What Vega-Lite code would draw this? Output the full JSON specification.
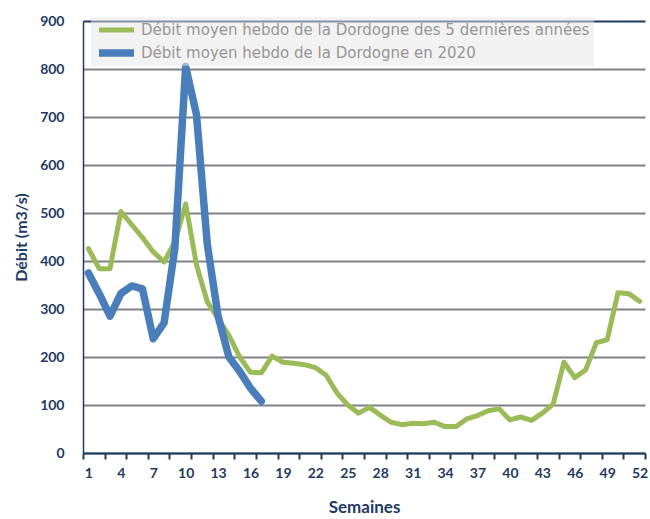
{
  "$schema": "https://vega.github.io/schema/vega-lite/v6.json",
  "width": 562,
  "height": 432,
  "autosize": {"type": "none"},
  "padding": {"left": 83, "top": 21, "right": 5, "bottom": 66},
  "background": "#ffffff",
  "config": {
    "view": {"stroke": null},
    "font": "Lato"
  },
  "data": {
    "values": [
      {"semaine": 1, "serie": "Débit moyen hebdo de la Dordogne des 5 dernières années", "debit": 426},
      {"semaine": 2, "serie": "Débit moyen hebdo de la Dordogne des 5 dernières années", "debit": 384},
      {"semaine": 3, "serie": "Débit moyen hebdo de la Dordogne des 5 dernières années", "debit": 384},
      {"semaine": 4, "serie": "Débit moyen hebdo de la Dordogne des 5 dernières années", "debit": 503},
      {"semaine": 5, "serie": "Débit moyen hebdo de la Dordogne des 5 dernières années", "debit": 476},
      {"semaine": 6, "serie": "Débit moyen hebdo de la Dordogne des 5 dernières années", "debit": 449},
      {"semaine": 7, "serie": "Débit moyen hebdo de la Dordogne des 5 dernières années", "debit": 419},
      {"semaine": 8, "serie": "Débit moyen hebdo de la Dordogne des 5 dernières années", "debit": 398},
      {"semaine": 9, "serie": "Débit moyen hebdo de la Dordogne des 5 dernières années", "debit": 440},
      {"semaine": 10, "serie": "Débit moyen hebdo de la Dordogne des 5 dernières années", "debit": 519},
      {"semaine": 11, "serie": "Débit moyen hebdo de la Dordogne des 5 dernières années", "debit": 392},
      {"semaine": 12, "serie": "Débit moyen hebdo de la Dordogne des 5 dernières années", "debit": 315},
      {"semaine": 13, "serie": "Débit moyen hebdo de la Dordogne des 5 dernières années", "debit": 280},
      {"semaine": 14, "serie": "Débit moyen hebdo de la Dordogne des 5 dernières années", "debit": 245},
      {"semaine": 15, "serie": "Débit moyen hebdo de la Dordogne des 5 dernières années", "debit": 200},
      {"semaine": 16, "serie": "Débit moyen hebdo de la Dordogne des 5 dernières années", "debit": 168},
      {"semaine": 17, "serie": "Débit moyen hebdo de la Dordogne des 5 dernières années", "debit": 167},
      {"semaine": 18, "serie": "Débit moyen hebdo de la Dordogne des 5 dernières années", "debit": 202},
      {"semaine": 19, "serie": "Débit moyen hebdo de la Dordogne des 5 dernières années", "debit": 189},
      {"semaine": 20, "serie": "Débit moyen hebdo de la Dordogne des 5 dernières années", "debit": 187},
      {"semaine": 21, "serie": "Débit moyen hebdo de la Dordogne des 5 dernières années", "debit": 184},
      {"semaine": 22, "serie": "Débit moyen hebdo de la Dordogne des 5 dernières années", "debit": 178},
      {"semaine": 23, "serie": "Débit moyen hebdo de la Dordogne des 5 dernières années", "debit": 162},
      {"semaine": 24, "serie": "Débit moyen hebdo de la Dordogne des 5 dernières années", "debit": 125},
      {"semaine": 25, "serie": "Débit moyen hebdo de la Dordogne des 5 dernières années", "debit": 100},
      {"semaine": 26, "serie": "Débit moyen hebdo de la Dordogne des 5 dernières années", "debit": 83},
      {"semaine": 27, "serie": "Débit moyen hebdo de la Dordogne des 5 dernières années", "debit": 95},
      {"semaine": 28, "serie": "Débit moyen hebdo de la Dordogne des 5 dernières années", "debit": 79},
      {"semaine": 29, "serie": "Débit moyen hebdo de la Dordogne des 5 dernières années", "debit": 64},
      {"semaine": 30, "serie": "Débit moyen hebdo de la Dordogne des 5 dernières années", "debit": 59},
      {"semaine": 31, "serie": "Débit moyen hebdo de la Dordogne des 5 dernières années", "debit": 62},
      {"semaine": 32, "serie": "Débit moyen hebdo de la Dordogne des 5 dernières années", "debit": 61},
      {"semaine": 33, "serie": "Débit moyen hebdo de la Dordogne des 5 dernières années", "debit": 64},
      {"semaine": 34, "serie": "Débit moyen hebdo de la Dordogne des 5 dernières années", "debit": 55},
      {"semaine": 35, "serie": "Débit moyen hebdo de la Dordogne des 5 dernières années", "debit": 55},
      {"semaine": 36, "serie": "Débit moyen hebdo de la Dordogne des 5 dernières années", "debit": 71},
      {"semaine": 37, "serie": "Débit moyen hebdo de la Dordogne des 5 dernières années", "debit": 78},
      {"semaine": 38, "serie": "Débit moyen hebdo de la Dordogne des 5 dernières années", "debit": 88},
      {"semaine": 39, "serie": "Débit moyen hebdo de la Dordogne des 5 dernières années", "debit": 92},
      {"semaine": 40, "serie": "Débit moyen hebdo de la Dordogne des 5 dernières années", "debit": 69},
      {"semaine": 41, "serie": "Débit moyen hebdo de la Dordogne des 5 dernières années", "debit": 75},
      {"semaine": 42, "serie": "Débit moyen hebdo de la Dordogne des 5 dernières années", "debit": 68},
      {"semaine": 43, "serie": "Débit moyen hebdo de la Dordogne des 5 dernières années", "debit": 83},
      {"semaine": 44, "serie": "Débit moyen hebdo de la Dordogne des 5 dernières années", "debit": 102},
      {"semaine": 45, "serie": "Débit moyen hebdo de la Dordogne des 5 dernières années", "debit": 189},
      {"semaine": 46, "serie": "Débit moyen hebdo de la Dordogne des 5 dernières années", "debit": 157},
      {"semaine": 47, "serie": "Débit moyen hebdo de la Dordogne des 5 dernières années", "debit": 173},
      {"semaine": 48, "serie": "Débit moyen hebdo de la Dordogne des 5 dernières années", "debit": 230},
      {"semaine": 49, "serie": "Débit moyen hebdo de la Dordogne des 5 dernières années", "debit": 236},
      {"semaine": 50, "serie": "Débit moyen hebdo de la Dordogne des 5 dernières années", "debit": 334},
      {"semaine": 51, "serie": "Débit moyen hebdo de la Dordogne des 5 dernières années", "debit": 332},
      {"semaine": 52, "serie": "Débit moyen hebdo de la Dordogne des 5 dernières années", "debit": 316},
      {"semaine": 1, "serie": "Débit moyen hebdo de la Dordogne en 2020", "debit": 375},
      {"semaine": 2, "serie": "Débit moyen hebdo de la Dordogne en 2020", "debit": 332},
      {"semaine": 3, "serie": "Débit moyen hebdo de la Dordogne en 2020", "debit": 285},
      {"semaine": 4, "serie": "Débit moyen hebdo de la Dordogne en 2020", "debit": 332},
      {"semaine": 5, "serie": "Débit moyen hebdo de la Dordogne en 2020", "debit": 348},
      {"semaine": 6, "serie": "Débit moyen hebdo de la Dordogne en 2020", "debit": 342},
      {"semaine": 7, "serie": "Débit moyen hebdo de la Dordogne en 2020", "debit": 238},
      {"semaine": 8, "serie": "Débit moyen hebdo de la Dordogne en 2020", "debit": 271},
      {"semaine": 9, "serie": "Débit moyen hebdo de la Dordogne en 2020", "debit": 427},
      {"semaine": 10, "serie": "Débit moyen hebdo de la Dordogne en 2020", "debit": 805},
      {"semaine": 11, "serie": "Débit moyen hebdo de la Dordogne en 2020", "debit": 705},
      {"semaine": 12, "serie": "Débit moyen hebdo de la Dordogne en 2020", "debit": 435},
      {"semaine": 13, "serie": "Débit moyen hebdo de la Dordogne en 2020", "debit": 285},
      {"semaine": 14, "serie": "Débit moyen hebdo de la Dordogne en 2020", "debit": 200},
      {"semaine": 15, "serie": "Débit moyen hebdo de la Dordogne en 2020", "debit": 170},
      {"semaine": 16, "serie": "Débit moyen hebdo de la Dordogne en 2020", "debit": 135},
      {"semaine": 17, "serie": "Débit moyen hebdo de la Dordogne en 2020", "debit": 108}
    ]
  },
  "mark": {"type": "line", "strokeCap": "round", "strokeJoin": "round"},
  "encoding": {
    "x": {
      "field": "semaine",
      "type": "quantitative",
      "scale": {"domain": [0.5, 52.5], "nice": false, "zero": false},
      "axis": {
        "title": "Semaines",
        "values": [0.5, 1, 2.5, 4, 4.5, 6.5, 7, 8.5, 10, 10.5, 12.5, 13, 14.5, 16, 16.5, 18.5, 19, 20.5, 22, 22.5, 24.5, 25, 26.5, 28, 28.5, 30.5, 31, 32.5, 34, 34.5, 36.5, 37, 38.5, 40, 40.5, 42.5, 43, 44.5, 46, 46.5, 48.5, 49, 50.5, 52, 52.5],
        "labelExpr": "datum.value % 1 === 0 ? datum.label : ''",
        "labelOverlap": false,
        "labelFlush": false,
        "labelBound": false,
        "grid": false,
        "domainColor": "#1f3b63",
        "domainWidth": 2,
        "tickColor": "#1f3b63",
        "tickWidth": 2,
        "tickSize": 6,
        "tickOpacity": {"condition": {"test": "datum.value % 1 !== 0", "value": 1}, "value": 0},
        "labelFont": "Lato",
        "labelFontSize": 14,
        "labelFontWeight": "bold",
        "labelColor": "#1f3b63",
        "labelPadding": 7,
        "titleFont": "Lato",
        "titleFontSize": 17,
        "titleFontWeight": "bold",
        "titleColor": "#1f3b63",
        "titlePadding": 19
      }
    },
    "y": {
      "field": "debit",
      "type": "quantitative",
      "scale": {"domain": [0, 900], "nice": false},
      "axis": {
        "title": "Débit (m3/s)",
        "values": [0, 100, 200, 300, 400, 500, 600, 700, 800, 900],
        "ticks": false,
        "grid": true,
        "gridColor": {"condition": {"test": "datum.value === 900", "value": "#1f3b63"}, "value": "#808088"},
        "gridWidth": 2,
        "domainColor": "#1f3b63",
        "domainWidth": 1.5,
        "labelFont": "Lato",
        "labelFontSize": 14,
        "labelFontWeight": "bold",
        "labelColor": "#1f3b63",
        "labelPadding": 19,
        "titleFont": "Lato",
        "titleFontSize": 16,
        "titleFontWeight": "bold",
        "titleColor": "#1f3b63",
        "titleAngle": 270,
        "titleAlign": "center",
        "titleBaseline": "middle",
        "titleX": -62,
        "titleY": 216
      }
    },
    "color": {
      "field": "serie",
      "type": "nominal",
      "scale": {
        "domain": ["Débit moyen hebdo de la Dordogne des 5 dernières années", "Débit moyen hebdo de la Dordogne en 2020"],
        "range": ["#9bbb59", "#4a7ebb"]
      },
      "legend": {
        "title": null,
        "orient": "none",
        "legendX": 8,
        "legendY": -4,
        "symbolType": "stroke",
        "symbolSize": 1225,
        "symbolStrokeWidth": 5,
        "clipHeight": 18,
        "rowPadding": 5,
        "labelFont": "DejaVu Sans",
        "labelFontSize": 15,
        "labelColor": "#969696",
        "labelLimit": 600,
        "labelOffset": 3,
        "padding": 4,
        "fillColor": "rgba(230,230,230,0.5)"
      }
    },
    "strokeWidth": {
      "field": "serie",
      "type": "nominal",
      "scale": {
        "domain": ["Débit moyen hebdo de la Dordogne des 5 dernières années", "Débit moyen hebdo de la Dordogne en 2020"],
        "range": [5, 7.5]
      },
      "legend": null
    }
  }
}
